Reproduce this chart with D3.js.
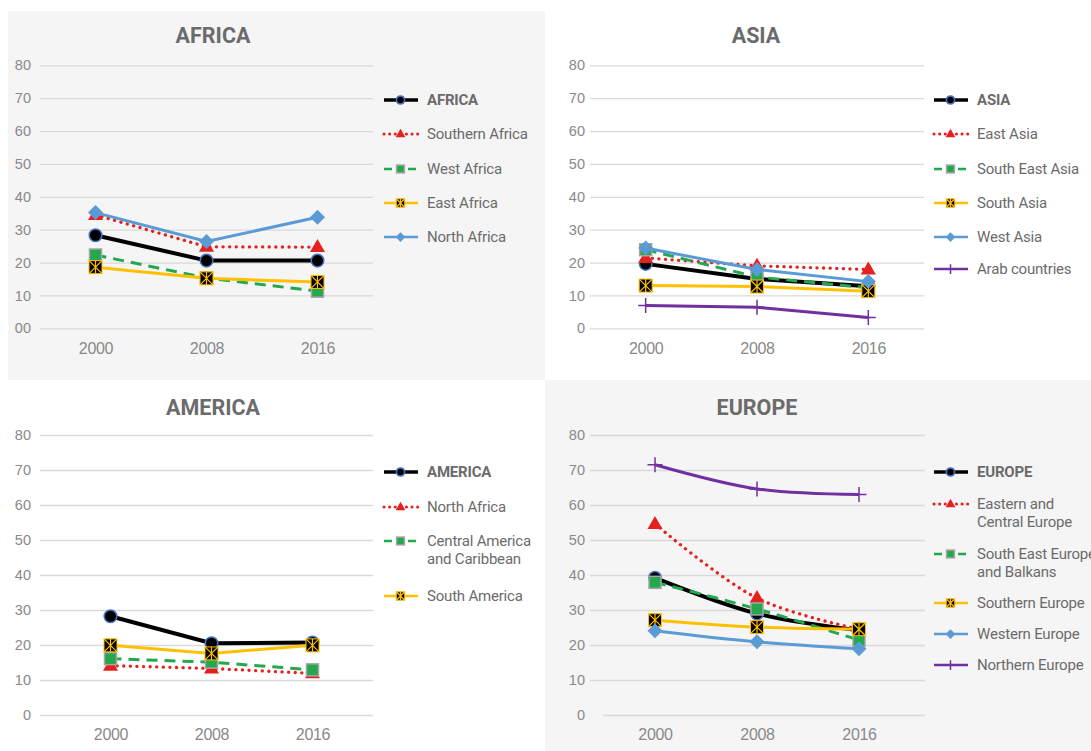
<!DOCTYPE html>
<html>
<head>
<meta charset="utf-8">
<script src="https://cdn.jsdelivr.net/npm/d3@7"></script>
<style>
  body { margin: 0; background: #fff; }
  svg { display: block; font-family: Roboto, "Noto Sans", sans-serif; }
  .tick text { fill: #898989; }
  .domain { display: none; }
</style>
</head>
<body>
<div id="chart"></div>
<script>
// chart values
var years = ["2000", "2008", "2016"];
var yTicks = [0, 10, 20, 30, 40, 50, 60, 70, 80];
var africaTickLabels = ["00", "10", "20", "30", "40", "50", "60", "70", "80"];
var tickLabels = ["0", "10", "20", "30", "40", "50", "60", "70", "80"];

var africaNames = ["AFRICA", "Southern Africa", "West Africa", "East Africa", "North Africa"];
var africaValues = [
  [28.3, 20.6, 20.6],
  [34.5, 24.8, 24.7],
  [22.3, 15.3, 11.3],
  [18.6, 15.2, 14.1],
  [35.2, 26.4, 33.8]
];

var asiaNames = ["ASIA", "East Asia", "South East Asia", "South Asia", "West Asia", "Arab countries"];
var asiaValues = [
  [19.6, 15.0, 12.8],
  [21.4, 19.0, 17.9],
  [23.9, 15.6, 12.3],
  [13.0, 12.7, 11.3],
  [24.4, 17.9, 14.2],
  [6.9, 6.4, 3.3]
];

var americaNames = ["AMERICA", "North Africa", "Central America\nand Caribbean", "South America"];
var americaValues = [
  [28.2, 20.5, 20.7],
  [14.1, 13.3, 11.9],
  [16.1, 15.1, 12.9],
  [19.9, 17.6, 19.9]
];

var europeNames = ["EUROPE", "Eastern and\nCentral Europe", "South East Europe\nand Balkans", "Southern Europe", "Western Europe", "Northern Europe"];
var europeValues = [
  [39.2, 29.0, 24.2],
  [54.6, 33.4, 24.5],
  [37.9, 30.3, 21.4],
  [27.1, 25.1, 24.5],
  [24.1, 20.9, 18.9],
  [71.5, 64.6, 63.0]
];

// series styles, by position in each panel
var styles = [
  {color: "#000000", width: 4, dash: null, marker: "circle"},
  {color: "#e5201f", width: 3.3, dash: "0.1 6.5", marker: "triangle"},
  {color: "#23a84d", width: 3, dash: "11 7", marker: "square"},
  {color: "#ffc000", width: 3, dash: null, marker: "xbox"},
  {color: "#5b9bd5", width: 3, dash: null, marker: "diamond"},
  {color: "#7030a0", width: 3, dash: null, marker: "plus"}
];

var svg = d3.select("#chart")
  .append("svg")
  .attr("width", 1091)
  .attr("height", 751);

// panel backgrounds
svg.append("rect").attr("x", 8).attr("y", 11).attr("width", 537).attr("height", 369).attr("fill", "#f5f5f5");
svg.append("rect").attr("x", 545).attr("y", 380).attr("width", 546).attr("height", 371).attr("fill", "#f5f5f5");

var panels = [
  {title: "AFRICA", names: africaNames, values: africaValues, labels: africaTickLabels,
   gx0: 40, gx1: 373, xr: [40, 373], y0: 328.3, y80: 65.3, tickPad: 9, titleX: 213, titleY: 35,
   xLabY: 348, legX: 383, legY: [100, 134, 169, 203, 237], smooth: false, axisStart: 0},
  {title: "ASIA", names: asiaNames, values: asiaValues, labels: tickLabels,
   gx0: 590, gx1: 924, xr: [590, 924], y0: 328.3, y80: 65.3, tickPad: 5, titleX: 756, titleY: 35,
   xLabY: 348, legX: 933, legY: [100, 134, 169, 203, 237, 269], smooth: false, axisStart: 0},
  {title: "AMERICA", names: americaNames, values: americaValues, labels: tickLabels,
   gx0: 40, gx1: 373, xr: [60, 363], y0: 715, y80: 435, tickPad: 9, titleX: 213, titleY: 407,
   xLabY: 734, legX: 383, legY: [472, 507, 541, 596], smooth: false, axisStart: 0},
  {title: "EUROPE", names: europeNames, values: europeValues, labels: tickLabels,
   gx0: 590, gx1: 925, xr: [604, 910], y0: 715, y80: 435, tickPad: 5, titleX: 757, titleY: 407,
   xLabY: 734, legX: 933, legY: [472, 504, 554, 603, 634, 665], smooth: true, axisStart: 13}
];

function drawMarker(g, type, x, y, s) {
  var st = styles[type];
  var m = g.append("g").attr("transform", "translate(" + x + "," + y + ")");
  if (st.marker === "circle") {
    m.append("circle").attr("r", 6.3 * s).attr("fill", "#000").attr("stroke", "#4472c4").attr("stroke-width", 1.5);
  } else if (st.marker === "triangle") {
    m.append("path").attr("d", d3.line()([[0, -8 * s], [7.5 * s, 5 * s], [-7.5 * s, 5 * s]]) + "Z").attr("fill", st.color);
  } else if (st.marker === "square") {
    m.append("rect").attr("x", -6 * s).attr("y", -6 * s).attr("width", 12 * s).attr("height", 12 * s)
      .attr("fill", st.color).attr("stroke", "#a5a5a5").attr("stroke-width", 1.5);
  } else if (st.marker === "xbox") {
    var h = 6.5 * s;
    m.append("rect").attr("x", -h).attr("y", -h).attr("width", 2 * h).attr("height", 2 * h)
      .attr("fill", "#000").attr("stroke", st.color).attr("stroke-width", 1);
    m.append("path")
      .attr("d", "M" + (-h) + "," + (-h) + "L" + h + "," + h + "M" + h + "," + (-h) + "L" + (-h) + "," + h + "M0," + (-h) + "L0," + h)
      .attr("stroke", st.color).attr("stroke-width", 1.2);
  } else if (st.marker === "diamond") {
    var d = 7.5 * s;
    m.append("path").attr("d", "M0," + (-d) + "L" + d + ",0L0," + d + "L" + (-d) + ",0Z").attr("fill", st.color);
  } else if (st.marker === "plus") {
    var p = 7.5 * s;
    m.append("path").attr("d", "M" + (-p) + ",0L" + p + ",0M0," + (-p) + "L0," + p)
      .attr("stroke", st.color).attr("stroke-width", 1.5);
  }
}

panels.forEach(function(panel) {
  var g = svg.append("g");

  var x = d3.scalePoint().domain(years).range(panel.xr).padding(0.5);
  var y = d3.scaleLinear().domain([0, 80]).range([panel.y0, panel.y80]);

  // y axis with gridlines
  var yAxis = g.append("g")
    .attr("transform", "translate(" + panel.gx0 + ",0)")
    .call(d3.axisLeft(y)
      .tickValues(yTicks)
      .tickSize(-(panel.gx1 - panel.gx0))
      .tickPadding(panel.tickPad)
      .tickFormat(function(d, i) { return panel.labels[i]; }));
  yAxis.selectAll(".tick line").attr("stroke", "#d9d9d9").attr("stroke-width", 1.3);
  yAxis.selectAll(".tick").filter(function(d) { return d === 0; })
    .select("line").attr("x1", panel.axisStart);
  yAxis.selectAll(".tick text").attr("font-size", "14.5px").attr("fill", "#898989");

  // x axis labels
  var xAxis = g.append("g")
    .attr("transform", "translate(0," + panel.xLabY + ")")
    .call(d3.axisBottom(x).tickSize(0).tickPadding(0));
  xAxis.selectAll(".tick text")
    .attr("dy", "0.35em")
    .attr("font-size", "16px")
    .attr("letter-spacing", "-0.3px")
    .attr("fill", "#898989");

  // title
  g.append("text")
    .attr("x", panel.titleX)
    .attr("y", panel.titleY)
    .attr("dy", "0.35em")
    .attr("text-anchor", "middle")
    .attr("font-size", "21.5px")
    .attr("font-weight", "bold")
    .attr("fill", "#6b6b6b")
    .text(panel.title);

  // series
  var line = d3.line()
    .x(function(d, i) { return x(years[i]); })
    .y(function(d) { return y(d); })
    .curve(panel.smooth ? d3.curveCatmullRom : d3.curveLinear);

  panel.values.forEach(function(vals, si) {
    var st = styles[si];
    g.append("path")
      .datum(vals)
      .attr("d", line)
      .attr("fill", "none")
      .attr("stroke", st.color)
      .attr("stroke-width", st.width)
      .attr("stroke-linecap", st.marker === "triangle" ? "round" : "butt")
      .attr("stroke-dasharray", st.dash);
    vals.forEach(function(v, i) {
      drawMarker(g, si, x(years[i]), y(v), 1);
    });
  });

  // legend
  panel.names.forEach(function(name, si) {
    var st = styles[si];
    var ly = panel.legY[si];
    g.append("line")
      .attr("x1", panel.legX + 1).attr("x2", panel.legX + 35)
      .attr("y1", ly).attr("y2", ly)
      .attr("stroke", st.color)
      .attr("stroke-width", si === 0 ? 3.5 : (st.marker === "triangle" ? 3 : 2.5))
      .attr("stroke-linecap", st.marker === "triangle" ? "round" : "butt")
      .attr("stroke-dasharray", st.marker === "triangle" ? "0.1 5.5" : (st.dash ? "8 4" : null));
    drawMarker(g, si, panel.legX + 17.5, ly, 0.65);

    var t = g.append("text")
      .attr("x", panel.legX + 44)
      .attr("y", ly)
      .attr("font-size", "15px")
      .attr("letter-spacing", "-0.2px")
      .attr("font-weight", si === 0 ? "bold" : "normal")
      .attr("fill", "#6b6b6b");
    name.split("\n").forEach(function(part, k) {
      t.append("tspan")
        .attr("x", panel.legX + 44)
        .attr("dy", k === 0 ? "0.35em" : "18px")
        .text(part);
    });
  });
});
</script>
</body>
</html>
